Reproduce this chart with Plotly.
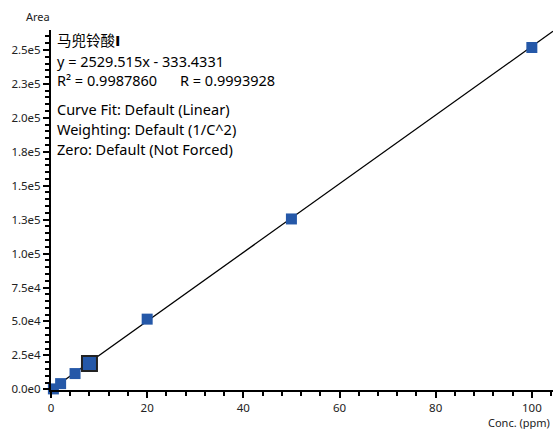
import plotly.graph_objects as go

# Data
conc = [0.5, 2, 5, 20, 50, 100]
area = [300, 4200, 11600, 51700, 125500, 251800]
sel_conc = [8]
sel_area = [19000]
slope = 2529.515
intercept = -333.4331
x_max = 104.4
y_ticks = [0, 25000, 50000, 75000, 100000, 125000, 150000, 175000, 200000, 225000, 250000]
y_tick_labels = ["0.0e0", "2.5e4", "5.0e4", "7.5e4", "1.0e5", "1.3e5", "1.5e5", "1.8e5", "2.0e5", "2.3e5", "2.5e5"]
x_ticks = [0, 20, 40, 60, 80, 100]
info_lines = ["马兜铃酸<span style=\"font-family:DejaVu Sans\"><b>I</b></span>",
              "y = 2529.515x - 333.4331", "R² = 0.9987860",
              "Curve Fit: Default (Linear)", "Weighting: Default (1/C^2)", "Zero: Default (Not Forced)"]
info_r = "R = 0.9993928"

FONT = "Noto Sans, Noto Sans CJK SC, sans-serif"
BLUE = "#2558A8"

fit_x = [0, x_max]
fit_y = [slope * v + intercept for v in fit_x]

fig = go.Figure()
fig.add_trace(go.Scatter(x=fit_x, y=fit_y, mode="lines",
                         line=dict(color="black", width=1.3), hoverinfo="skip"))
fig.add_trace(go.Scatter(x=conc, y=area, mode="markers", cliponaxis=False,
                         marker=dict(symbol="square", size=11, color=BLUE,
                                     line=dict(width=0))))
fig.add_trace(go.Scatter(x=sel_conc, y=sel_area, mode="markers", cliponaxis=False,
                         marker=dict(symbol="square", size=15, color=BLUE,
                                     line=dict(width=2, color="#222222"))))

W, H = 553, 429
L, R, T, B = 51, 0, 30, 39
ph = H - T - B
pw = W - L - R

def py(p):
    return (H - B - p) / ph

def px(p):
    return (p - L) / pw

ann = []
ys = [40, 60.5, 80.5, 108.5, 128.5, 148.5]
for txt, yy in zip(info_lines, ys):
    ann.append(dict(text=txt, x=px(55), y=py(yy), xref="paper", yref="paper",
                    xanchor="left", yanchor="middle", showarrow=False,
                    font=dict(family=FONT, size=14.5, color="black")))
ann.append(dict(text=info_r, x=px(178), y=py(80.5), xref="paper", yref="paper",
                xanchor="left", yanchor="middle", showarrow=False,
                font=dict(family=FONT, size=14.5, color="black")))
ann.append(dict(text="Area", x=px(38), y=py(17), xref="paper", yref="paper",
                xanchor="center", yanchor="middle", showarrow=False,
                font=dict(family=FONT, size=11, color="#222")))
ann.append(dict(text="Conc. (ppm)", x=px(552), y=py(423), xref="paper", yref="paper",
                xanchor="right", yanchor="middle", showarrow=False,
                font=dict(family=FONT, size=11, color="#222")))

fig.update_layout(
    width=W, height=H,
    margin=dict(l=L, r=R, t=T, b=B),
    paper_bgcolor="white", plot_bgcolor="white",
    showlegend=False,
    annotations=ann,
    font=dict(family=FONT, size=11, color="#222"),
)
fig.update_xaxes(range=[0, x_max], tickvals=x_ticks, showgrid=False, zeroline=False,
                 showline=True, linecolor="black", linewidth=2,
                 ticks="outside", ticklen=6, tickwidth=2, tickcolor="black",
                 tickfont=dict(family=FONT, size=11.5, color="#222"),
                 minor=dict(dtick=4, ticks="outside", ticklen=4, tickwidth=2, tickcolor="black"))
fig.update_yaxes(range=[-500, 264700], tickvals=y_ticks, ticktext=y_tick_labels,
                 showgrid=False, zeroline=False,
                 showline=True, linecolor="black", linewidth=2,
                 ticks="outside", ticklen=6, tickwidth=2, tickcolor="black",
                 tickfont=dict(family=FONT, size=11.5, color="#222"),
                 minor=dict(dtick=5000, ticks="outside", ticklen=4, tickwidth=2, tickcolor="black"))

fig.write_html("out.html", config={"displayModeBar": False},
               post_script="document.body.style.margin='0';document.body.style.overflow='hidden';")
